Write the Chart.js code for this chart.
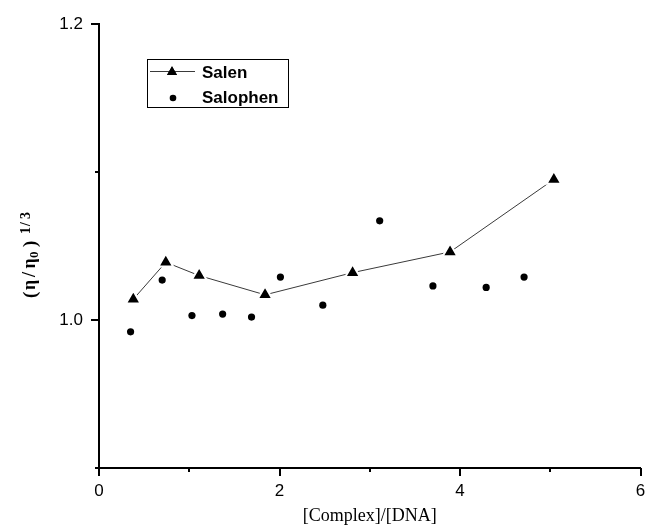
<!DOCTYPE html>
<html>
<head>
<meta charset="utf-8">
<script src="https://cdn.jsdelivr.net/npm/chart.js@4/dist/chart.umd.min.js"></script>
<style>
html,body{margin:0;padding:0;background:#fff;}
#wrap{width:651px;height:532px;position:relative;}
</style>
</head>
<body>
<div id="wrap"><canvas id="c"></canvas></div>
<script>
// ---- data ----
const salenX = [0.38, 0.74, 1.11, 1.84, 2.81, 3.89, 5.04];
const salenY = [1.014, 1.039, 1.030, 1.017, 1.032, 1.046, 1.095];
const salophenX = [0.35, 0.70, 1.03, 1.37, 1.69, 2.01, 2.48, 3.11, 3.70, 4.29, 4.71];
const salophenY = [0.992, 1.027, 1.003, 1.004, 1.002, 1.029, 1.010, 1.067, 1.023, 1.022, 1.029];
const seriesNames = ['Salen', 'Salophen'];
const xLabeled = [0, 2, 4, 6];
const yLabeled = [1.0, 1.2];
const xTitle = '[Complex]/[DNA]';

const toPts = (xs, ys) => xs.map((x, i) => ({x: x, y: ys[i]}));

const SERIF = '"Liberation Serif", "Times New Roman", serif';

const customDraw = {
  id: 'customDraw',
  afterDraw(chart) {
    const ctx = chart.ctx;
    const xs = chart.scales.x, ys = chart.scales.y;
    const ca = chart.chartArea;
    ctx.save();
    ctx.strokeStyle = '#000';
    ctx.lineWidth = 2;
    // x ticks (outward, down)
    xs.ticks.forEach(t => {
      const px = Math.round(xs.getPixelForValue(t.value));
      const major = xLabeled.some(v => Math.abs(v - t.value) < 1e-6);
      ctx.beginPath();
      ctx.moveTo(px, ca.bottom);
      ctx.lineTo(px, ca.bottom + (major ? 8 : 4));
      ctx.stroke();
    });
    // y ticks (outward, left)
    ys.ticks.forEach(t => {
      const py = Math.round(ys.getPixelForValue(t.value));
      const major = yLabeled.some(v => Math.abs(v - t.value) < 1e-6);
      ctx.beginPath();
      ctx.moveTo(ca.left, py);
      ctx.lineTo(ca.left - (major ? 8 : 4), py);
      ctx.stroke();
    });
    // small extension of x axis left of the y axis
    ctx.beginPath();
    ctx.moveTo(ca.left - 3, ca.bottom);
    ctx.lineTo(ca.left, ca.bottom);
    ctx.stroke();

    // x title
    ctx.fillStyle = '#000';
    ctx.font = '18px ' + SERIF;
    ctx.textAlign = 'center';
    ctx.textBaseline = 'middle';
    ctx.fillText(xTitle, (ca.left + ca.right) / 2, 516);

    // y title: (η / η0)^1/3 rotated, reading bottom to top
    ctx.save();
    ctx.rotate(-Math.PI / 2);
    ctx.textAlign = 'left';
    ctx.textBaseline = 'alphabetic';
    const pieces = [
      {t: '(', f: 'bold 19px', b: 36, s: 298},
      {t: 'η', f: 'bold 18px', b: 35, s: 290},
      {t: '/', f: 'bold 18px', b: 35, s: 277},
      {t: 'η', f: 'bold 18px', b: 35, s: 268.5},
      {t: '0', f: 'bold 13px', b: 37.5, s: 258},
      {t: ')', f: 'bold 19px', b: 36, s: 247},
      {t: '1', f: 'bold 14px', b: 30, s: 234},
      {t: '/', f: 'bold 14px', b: 30, s: 226},
      {t: '3', f: 'bold 14px', b: 30, s: 219}
    ];
    pieces.forEach(p => {
      ctx.font = p.f + ' ' + SERIF;
      ctx.fillText(p.t, -p.s, p.b);
    });
    ctx.restore();

    // legend
    const lx = 147.5, ly = 59.5, lw = 141, lh = 48;
    ctx.lineWidth = 1;
    ctx.strokeStyle = '#000';
    ctx.strokeRect(lx, ly, lw, lh);
    const ds = chart.data.datasets;
    ctx.strokeStyle = ds[0].borderColor;
    ctx.beginPath();
    ctx.moveTo(150, 71.5);
    ctx.lineTo(195, 71.5);
    ctx.stroke();
    ctx.fillStyle = '#000';
    Chart.helpers.drawPoint(ctx, {pointStyle: 'triangle', radius: 5.8, borderWidth: 0, rotation: 0}, 172, 72);
    ctx.fill();
    ctx.beginPath();
    ctx.arc(173, 98, 3.3, 0, Math.PI * 2);
    ctx.fill();
    ctx.font = 'bold 17px "Liberation Sans", Arial, sans-serif';
    ctx.textAlign = 'left';
    ctx.textBaseline = 'middle';
    ctx.fillText(ds[0].label, 202, 73);
    ctx.fillText(ds[1].label, 202, 98);
    ctx.restore();
  }
};

new Chart(document.getElementById('c'), {
  type: 'scatter',
  data: {
    datasets: [
      {
        label: seriesNames[0],
        data: toPts(salenX, salenY),
        showLine: true,
        borderColor: '#3a3a3a',
        borderWidth: 1,
        tension: 0,
        pointStyle: 'triangle',
        pointRadius: 8.5,
        pointBackgroundColor: '#000',
        pointBorderColor: '#fff',
        pointBorderWidth: 2
      },
      {
        label: seriesNames[1],
        data: toPts(salophenX, salophenY),
        showLine: false,
        pointStyle: 'circle',
        pointRadius: 3.6,
        pointBackgroundColor: '#000',
        pointBorderColor: '#000',
        pointBorderWidth: 0
      }
    ]
  },
  options: {
    responsive: true,
    maintainAspectRatio: false,
    animation: false,
    layout: {padding: {top: 24, right: 6, left: 0, bottom: 0}},
    plugins: {legend: {display: false}, tooltip: {enabled: false}},
    scales: {
      x: {
        type: 'linear',
        min: 0, max: 6,
        afterFit(s) { s.height = 64; },
        ticks: {
          stepSize: 1,
          color: '#000',
          padding: 5,
          maxRotation: 0,
          font: {family: '"Liberation Sans", Arial, sans-serif', size: 17},
          callback: v => xLabeled.some(l => Math.abs(l - v) < 1e-6) ? String(Math.round(v)) : ''
        },
        grid: {drawOnChartArea: false, drawTicks: true, tickLength: 8, tickColor: 'rgba(0,0,0,0)'},
        border: {display: true, color: '#000', width: 2}
      },
      y: {
        type: 'linear',
        min: 0.9, max: 1.2,
        afterFit(s) { s.width = 99; },
        ticks: {
          stepSize: 0.1,
          color: '#000',
          padding: 8,
          font: {family: '"Liberation Sans", Arial, sans-serif', size: 17},
          callback: v => yLabeled.some(l => Math.abs(l - v) < 1e-6) ? Number(v).toFixed(1) : ''
        },
        grid: {drawOnChartArea: false, drawTicks: true, tickLength: 8, tickColor: 'rgba(0,0,0,0)'},
        border: {display: true, color: '#000', width: 2}
      }
    }
  },
  plugins: [customDraw]
});
</script>
</body>
</html>
